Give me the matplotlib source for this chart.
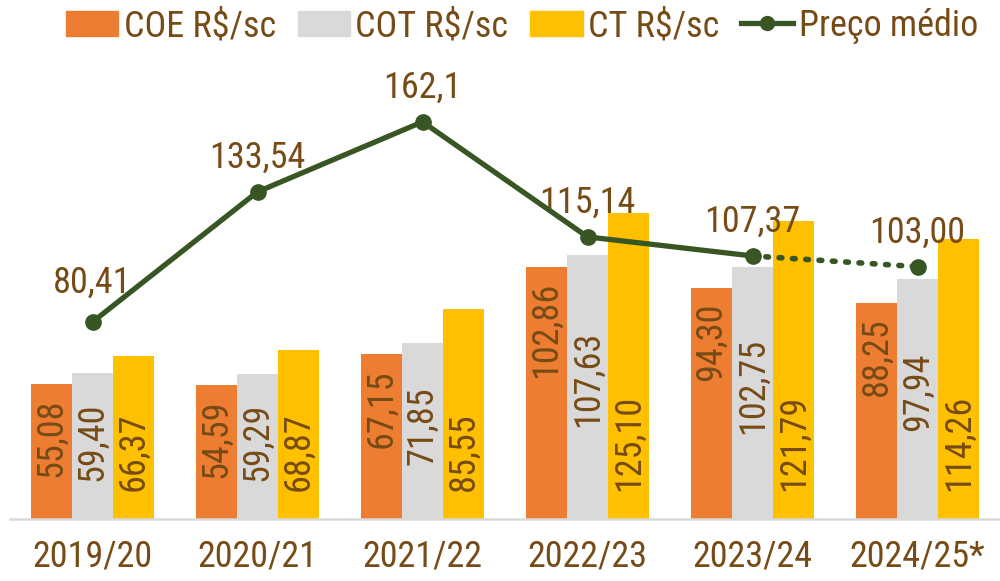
import numpy as np
import matplotlib.pyplot as plt
from matplotlib.lines import Line2D
from matplotlib.patches import Patch

safras = ['2019/20', '2020/21', '2021/22', '2022/23', '2023/24', '2024/25*']
coe = [55.08, 54.59, 67.15, 102.86, 94.30, 88.25]
cot = [59.40, 59.29, 71.85, 107.63, 102.75, 97.94]
ct = [66.37, 68.87, 85.55, 125.10, 121.79, 114.26]
preco = [80.41, 133.54, 162.1, 115.14, 107.37, 103.00]
preco_txt = ['80,41', '133,54', '162,1', '115,14', '107,37', '103,00']

plt.rcParams['font.family'] = ['Liberation Sans Narrow', 'Roboto Condensed', 'Archivo Narrow',
                               'Liberation Sans', 'DejaVu Sans']
txt_cor = '#774B16'
verde = '#375623'
fs = 26

def br(v):
    return ('%.2f' % v).replace('.', ',')

fig = plt.figure(figsize=(10, 5.81), dpi=100)
ax = fig.add_axes([0.01, 0.1067, 0.99, 0.8434])

x = np.arange(len(safras))
w = 0.25
ax.bar(x - w, coe, w, color='#ED7D31')
ax.bar(x, cot, w, color='#D9D9D9')
ax.bar(x + w, ct, w, color='#FFC000')

# rotulos das barras
for i in range(len(x)):
    ax.text(x[i] - w, coe[i] - 6.0, br(coe[i]), rotation=90, ha='center', va='top',
            fontsize=fs, color=txt_cor)
    ax.text(x[i], cot[i] * 0.53, br(cot[i]), rotation=90, ha='center', va='center',
            fontsize=fs, color=txt_cor)
    ax.text(x[i] + w, 11.5, br(ct[i]), rotation=90, ha='center', va='bottom',
            fontsize=fs, color=txt_cor)

# preco medio
ax.plot(x[:5], preco[:5], color=verde, lw=3.8, marker='o', ms=11, zorder=5)
ax.plot(x[4:], preco[4:], color=verde, lw=4, ls=(0, (0.5, 1.9)), dash_capstyle='round',
        marker='o', ms=11, markevery=[1], zorder=5)
for i in range(len(x)):
    off = 16 if i == 0 else 14
    ax.text(x[i], preco[i] + off, preco_txt[i], ha='center', va='center',
            fontsize=fs, color=txt_cor)

ax.set_xlim(-0.5, 5.5)
ax.set_ylim(0, 200)
ax.set_yticks([])
ax.set_xticks(x)
ax.set_xticklabels(safras, fontsize=fs, color=txt_cor)
ax.tick_params(axis='x', length=0, pad=14)
for s in ['top', 'right', 'left']:
    ax.spines[s].set_visible(False)
ax.spines['bottom'].set_color('#D9D9D9')
ax.spines['bottom'].set_linewidth(1.8)

handles = [Patch(color='#ED7D31'), Patch(color='#D9D9D9'), Patch(color='#FFC000'),
           Line2D([], [], color=verde, lw=3.8, marker='o', ms=10)]
labels = ['COE R$/sc', 'COT R$/sc', 'CT R$/sc', 'Preço médio']
fig.legend(handles, labels, loc='center', bbox_to_anchor=(0.522, 0.955), ncol=4,
           frameon=False, fontsize=26, labelcolor=txt_cor, handlelength=1.45,
           handleheight=0.72, handletextpad=0.15, columnspacing=0.6)

fig.savefig('out.png', dpi=100)
